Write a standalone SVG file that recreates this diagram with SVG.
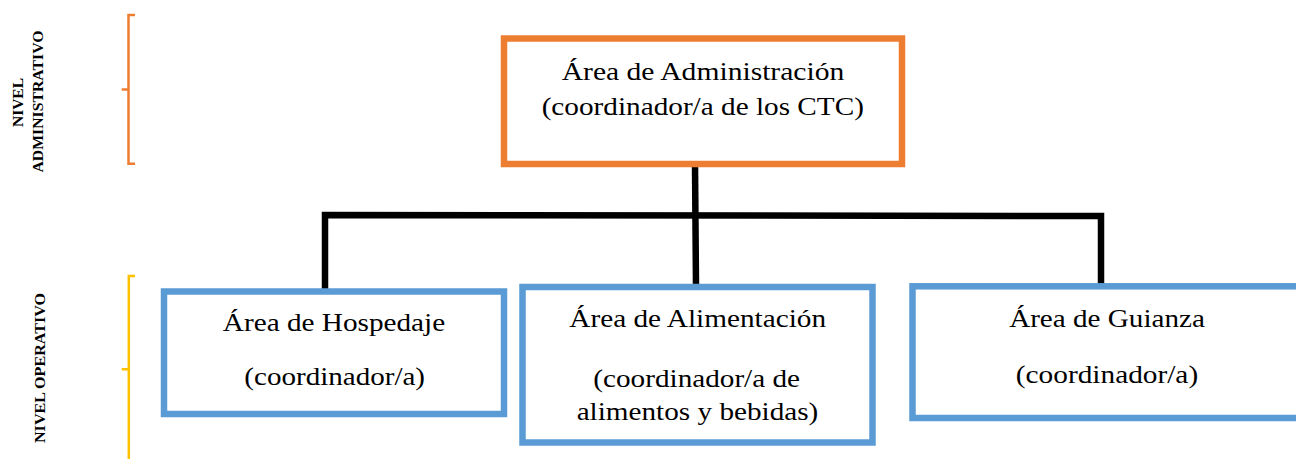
<svg xmlns="http://www.w3.org/2000/svg" width="1296" height="459" viewBox="0 0 1296 459">
<style>
.bg{fill:#ffffff}
.box{fill:#ffffff;stroke-width:6.5}
.orange{stroke:#ED7D31}
.blue{stroke:#5B9BD5}
.t{font-family:"Liberation Serif","Times New Roman",serif;font-size:26px;fill:#000000;text-anchor:middle}
.lab{font-family:"Liberation Serif","Times New Roman",serif;font-size:15.5px;font-weight:bold;fill:#000000;text-anchor:middle}
.conn{fill:none;stroke:#000000;stroke-width:6.5;stroke-linejoin:miter}
.br{fill:none;stroke-width:2.5}
</style>
<rect class="bg" x="0" y="0" width="1296" height="459"/>

<g id="levels">
  <path class="br" stroke="#ED7D31" d="M135,15 L128.5,15 L128.5,163.8 L135,163.8 M128.5,89.5 L121.7,89.5"/>
  <text class="lab" transform="translate(23.3,102.5) rotate(-90)" textLength="49" lengthAdjust="spacingAndGlyphs">NIVEL</text>
  <text class="lab" transform="translate(43.3,101.5) rotate(-90)" textLength="142" lengthAdjust="spacingAndGlyphs">ADMINISTRATIVO</text>
  <path class="br" stroke="#FFC000" d="M135,276 L128.8,276 L128.8,462 M128.8,369.3 L121.7,369.3"/>
  <text class="lab" transform="translate(45,368) rotate(-90)" textLength="150" lengthAdjust="spacingAndGlyphs">NIVEL OPERATIVO</text>
</g>

<g id="connectors">
  <path class="conn" d="M695,164 L696,286"/>
  <path class="conn" d="M325,290 L325,215 L1101,216 L1101,286"/>
</g>

<g id="admin">
  <rect class="box orange" x="504" y="38.5" width="398" height="125.5"/>
  <text class="t" x="703" y="80" textLength="282.6" lengthAdjust="spacingAndGlyphs">Área de Administración</text>
  <text class="t" x="702.8" y="115" textLength="322.3" lengthAdjust="spacingAndGlyphs">(coordinador/a de los CTC)</text>
</g>

<g id="hospedaje">
  <rect class="box blue" x="164" y="291.5" width="340" height="122.5"/>
  <text class="t" x="334" y="331" textLength="222.3" lengthAdjust="spacingAndGlyphs">Área de Hospedaje</text>
  <text class="t" x="334.7" y="385" textLength="180.7" lengthAdjust="spacingAndGlyphs">(coordinador/a)</text>
</g>

<g id="alimentacion">
  <rect class="box blue" x="522.5" y="287" width="350" height="155.5"/>
  <text class="t" x="697.7" y="327" textLength="256.7" lengthAdjust="spacingAndGlyphs">Área de Alimentación</text>
  <text class="t" x="696.7" y="387" textLength="206.7" lengthAdjust="spacingAndGlyphs">(coordinador/a de</text>
  <text class="t" x="697.5" y="420" textLength="241.7" lengthAdjust="spacingAndGlyphs">alimentos y bebidas)</text>
</g>

<g id="guianza">
  <rect class="box blue" x="912.5" y="286.3" width="392" height="131.7"/>
  <text class="t" x="1107" y="327" textLength="195.7" lengthAdjust="spacingAndGlyphs">Área de Guianza</text>
  <text class="t" x="1107" y="383" textLength="182.3" lengthAdjust="spacingAndGlyphs">(coordinador/a)</text>
</g>
</svg>
